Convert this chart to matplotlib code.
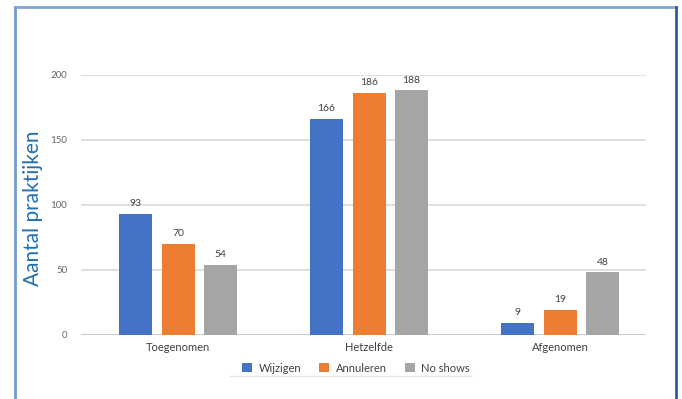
import matplotlib
matplotlib.use("Agg")
import matplotlib.pyplot as plt
from matplotlib.lines import Line2D
from matplotlib.patches import Patch
import numpy as np

plt.rcParams['font.family'] = ['Lato', 'DejaVu Sans']

categories = ["Toegenomen", "Hetzelfde", "Afgenomen"]
series_names = ["Wijzigen", "Annuleren", "No shows"]
wijzigen = [93, 166, 9]
annuleren = [70, 186, 19]
no_shows = [54, 188, 48]
colors = ["#4472C4", "#ED7D31", "#A5A5A5"]
y_ticks = [0, 50, 100, 150, 200]

W, H = 682, 399
fig = plt.figure(figsize=(W / 100, H / 100), dpi=100)
ax = fig.add_axes([81 / W, 64.3 / H, (646 - 81) / W, (324.3 - 64.3) / H])

x = np.arange(len(categories))
bar_w = 0.173
pitch = 0.222
series = [wijzigen, annuleren, no_shows]
for i, (vals, name, c) in enumerate(zip(series, series_names, colors)):
    pos = x + (i - 1) * pitch
    bars = ax.bar(pos, vals, width=bar_w, color=c, label=name, zorder=3)
    for b, v in zip(bars, vals):
        ax.annotate(str(v), (b.get_x() + b.get_width() / 2, v),
                    xytext=(0, 4), textcoords="offset points",
                    ha="center", va="bottom", fontsize=7.5, color="#404040")

ax.set_xlim(-0.508, 2.45)
ax.set_ylim(0, 200)
ax.set_yticks(y_ticks)
ax.set_yticklabels([str(t) for t in y_ticks])
ax.yaxis.grid(True, color="#D9D9D9", linewidth=1.2, zorder=0)
ax.axhline(0, color="#C8C8C8", linewidth=1.3, zorder=2)
for s in ax.spines.values():
    s.set_visible(False)
ax.tick_params(axis="y", length=0, pad=10, labelsize=7, labelcolor="#666666")
ax.set_xticks(x)
ax.set_xticklabels(categories)
ax.tick_params(axis="x", length=0, pad=5, labelsize=8, labelcolor="#404040")

ax.set_ylabel("Aantal praktijken", fontsize=15, color="#1F6FB2", va="center")
ax.yaxis.set_label_coords((33 - 81) / (646 - 81), (399 - 208 - 64.3) / 260)

handles = [Patch(facecolor=c, edgecolor="none") for c in colors]
leg = fig.legend(handles, series_names, loc="center", ncol=3,
                 bbox_to_anchor=(356 / W, 1 - 368 / H), frameon=False,
                 fontsize=8, handlelength=0.9, handleheight=0.9,
                 handletextpad=0.6, columnspacing=1.6)
for t in leg.get_texts():
    t.set_color("#404040")

# faint rule under the legend
fig.add_artist(Line2D([230 / W, 471 / W], [1 - 376 / H, 1 - 376 / H],
                      color="#E6E6E6", linewidth=1.0))

# outer frame
fig.add_artist(Line2D([15 / W, 15 / W], [0, 1 - 6.5 / H], color="#6E9BCB", linewidth=2.0))
fig.add_artist(Line2D([15 / W, 676 / W], [1 - 6.5 / H, 1 - 6.5 / H], color="#7FA6D0", linewidth=2.0))
fig.add_artist(Line2D([675.5 / W, 675.5 / W], [0, 1 - 6.5 / H], color="#2A5FA5", linewidth=2.0))

fig.savefig("out.png", dpi=100)
